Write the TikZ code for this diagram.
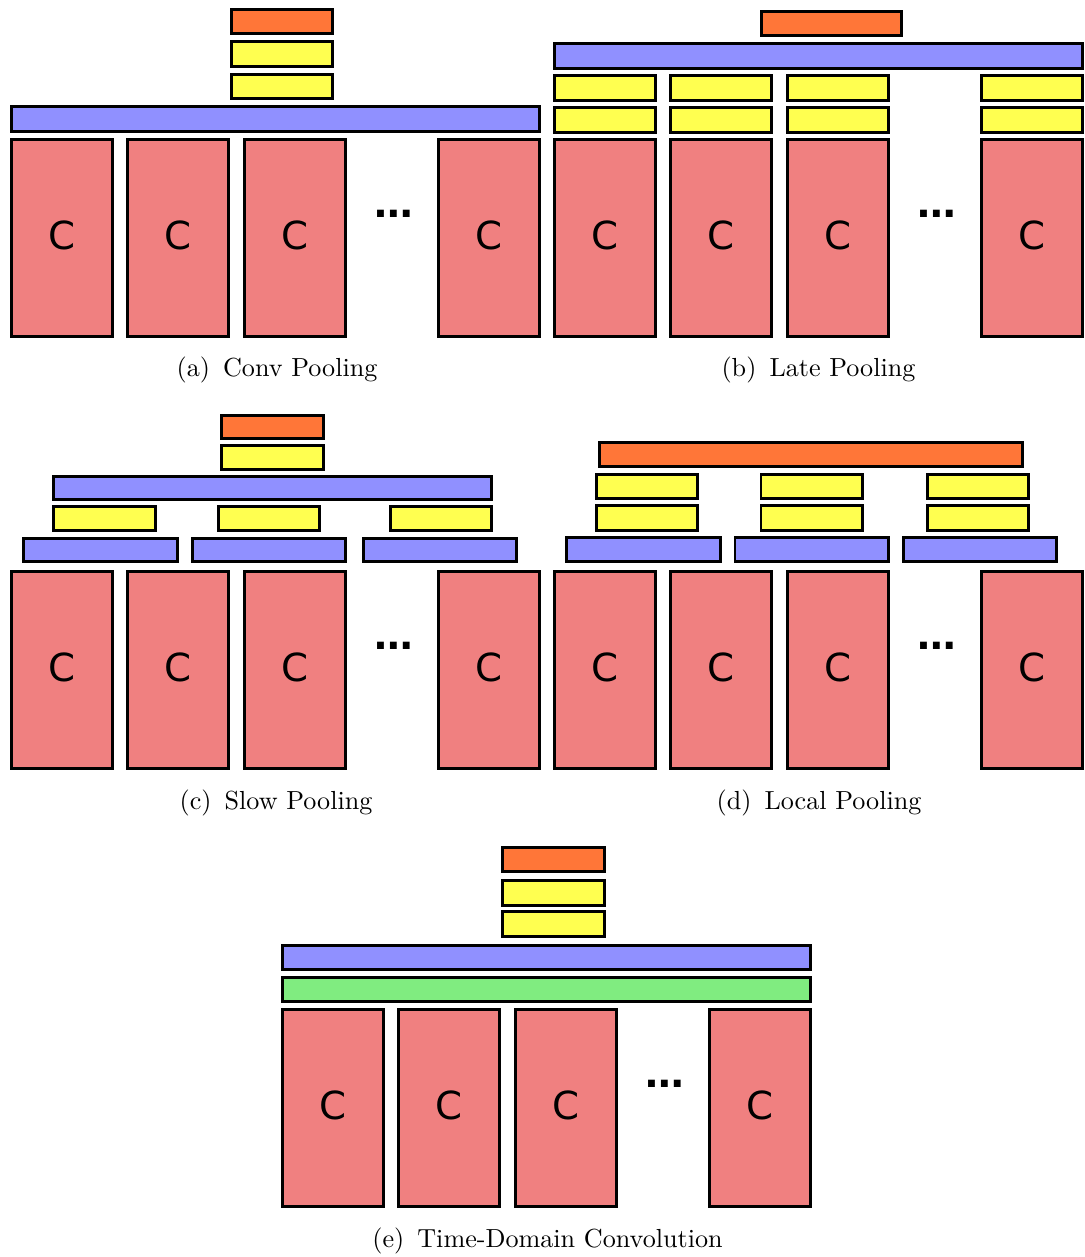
\documentclass[tikz,border=0pt]{standalone}
\usepackage{fontspec}
\newfontfamily\cfont{DejaVu Sans}
\newfontfamily\capfont{lmroman10-regular}[Extension=.otf]

\definecolor{outorange}{RGB}{255,118,56}
\definecolor{fcyellow}{RGB}{255,255,80}
\definecolor{poolblue}{RGB}{144,144,255}
\definecolor{convred}{RGB}{240,128,128}
\definecolor{tconvgreen}{RGB}{128,236,128}

\tikzset{
  blk/.style={draw=black, line width=1.9pt, inner sep=0pt, outer sep=0pt, anchor=center},
  outbox/.style={blk, fill=outorange},
  fcbox/.style={blk, fill=fcyellow},
  poolbox/.style={blk, fill=poolblue},
  tconvbox/.style={blk, fill=tconvgreen},
  convbox/.style={blk, fill=convred, font=\cfont\fontsize{29pt}{29pt}\selectfont, text depth=4.5pt},
  dotslabel/.style={font=\cfont\bfseries\fontsize{29pt}{29pt}\selectfont, anchor=base, inner sep=0pt},
  caption/.style={font=\capfont\fontsize{19.6pt}{23pt}\selectfont, anchor=base, inner sep=0pt},
}

% \layerbox{style}{name}{x1}{y1}{x2}{y2}{text}: box given by its outer extents
\newcommand\layerbox[7]{%
  \node[#1, minimum width={(#5-#3-2.5)*0.75pt}, minimum height={(#6-#4-2.5)*0.75pt}]
    (#2) at ({(#3+#5)/2},{(#4+#6)/2}) {#7};}

% \convrow{prefix}{top}{bottom}: the row of conv towers with the ellipsis
\newcommand\convrow[3]{%
  \layerbox{convbox}{#1c1}{10}{#2}{114}{#3}{C}
  \layerbox{convbox}{#1c2}{126}{#2}{230}{#3}{C}
  \layerbox{convbox}{#1c3}{243}{#2}{347}{#3}{C}
  \layerbox{convbox}{#1cn}{437}{#2}{541}{#3}{C}
  \node[dotslabel] (#1dots) at (394,{#2+79}) {…};}

\begin{document}
\begin{tikzpicture}[x=0.75pt,y=-0.75pt]
\useasboundingbox (0,0) rectangle (1085,1257);

% (a) Conv Pooling
\begin{scope}
  \layerbox{outbox}{a-out}{230}{8}{334}{35}{}
  \layerbox{fcbox}{a-fc2}{230}{40.5}{334}{67.5}{}
  \layerbox{fcbox}{a-fc1}{230}{73}{334}{100}{}
  \layerbox{poolbox}{a-pool}{10}{105.5}{541}{132.5}{}
  \convrow{a-}{138}{338}
  \node[caption] (a-cap) at (277,376) {(a)\hspace{0.5em}Conv Pooling};
\end{scope}

% (b) Late Pooling
\begin{scope}[shift={(543,0)}]
  \layerbox{outbox}{b-out}{217}{10}{360}{37}{}
  \layerbox{poolbox}{b-pool}{10}{42.5}{541}{69.5}{}
  \layerbox{fcbox}{b-fc2a}{10}{74.5}{114}{101.5}{}
  \layerbox{fcbox}{b-fc2b}{126}{74.5}{230}{101.5}{}
  \layerbox{fcbox}{b-fc2c}{243}{74.5}{347}{101.5}{}
  \layerbox{fcbox}{b-fc2n}{437}{74.5}{541}{101.5}{}
  \layerbox{fcbox}{b-fc1a}{10}{106.5}{114}{133.5}{}
  \layerbox{fcbox}{b-fc1b}{126}{106.5}{230}{133.5}{}
  \layerbox{fcbox}{b-fc1c}{243}{106.5}{347}{133.5}{}
  \layerbox{fcbox}{b-fc1n}{437}{106.5}{541}{133.5}{}
  \convrow{b-}{138}{338}
  \node[caption] (b-cap) at (275.5,376) {(b)\hspace{0.5em}Late Pooling};
\end{scope}

% (c) Slow Pooling
\begin{scope}
  \layerbox{outbox}{c-out}{220}{414}{325}{440}{}
  \layerbox{fcbox}{c-fc}{220}{444}{325}{471}{}
  \layerbox{poolbox}{c-pool2}{52.5}{475}{493}{501}{}
  \layerbox{fcbox}{c-fca}{52.5}{505}{156.5}{532}{}
  \layerbox{fcbox}{c-fcb}{217}{505}{321}{532}{}
  \layerbox{fcbox}{c-fcc}{389}{505}{493}{532}{}
  \layerbox{poolbox}{c-poola}{22.5}{537}{178.5}{563}{}
  \layerbox{poolbox}{c-poolb}{191}{537}{346.5}{563}{}
  \layerbox{poolbox}{c-poolc}{362}{537}{518}{563}{}
  \convrow{c-}{570}{770}
  \node[caption] (c-cap) at (276,809) {(c)\hspace{0.5em}Slow Pooling};
\end{scope}

% (d) Local Pooling
\begin{scope}[shift={(543,0)}]
  \layerbox{outbox}{d-out}{55.5}{441}{481}{468}{}
  \layerbox{fcbox}{d-fc2a}{52}{473}{156}{500}{}
  \layerbox{fcbox}{d-fc2b}{216.7}{473}{321}{500}{}
  \layerbox{fcbox}{d-fc2c}{383}{473}{487}{500}{}
  \layerbox{fcbox}{d-fc1a}{52}{504.5}{156}{532}{}
  \layerbox{fcbox}{d-fc1b}{216.7}{504.5}{321}{532}{}
  \layerbox{fcbox}{d-fc1c}{383}{504.5}{487}{532}{}
  \layerbox{poolbox}{d-poola}{22.4}{536.5}{178.8}{563}{}
  \layerbox{poolbox}{d-poolb}{190.6}{536.5}{346.7}{563}{}
  \layerbox{poolbox}{d-poolc}{359}{536.5}{515}{563}{}
  \convrow{d-}{570}{770}
  \node[caption] (d-cap) at (276,809) {(d)\hspace{0.5em}Local Pooling};
\end{scope}

% (e) Time-Domain Convolution
\begin{scope}[shift={(271,0)}]
  \layerbox{outbox}{e-out}{230.5}{846}{334.5}{873}{}
  \layerbox{fcbox}{e-fc2}{230.5}{879}{334.5}{906.5}{}
  \layerbox{fcbox}{e-fc1}{230.5}{910.5}{334.5}{938}{}
  \layerbox{poolbox}{e-pool}{10}{944}{541}{970.5}{}
  \layerbox{tconvbox}{e-tconv}{10}{976}{541}{1002.5}{}
  \convrow{e-}{1008}{1208}
  \node[caption] (e-cap) at (276.5,1247) {(e)\hspace{0.5em}Time-Domain Convolution};
\end{scope}
\end{tikzpicture}
\end{document}
